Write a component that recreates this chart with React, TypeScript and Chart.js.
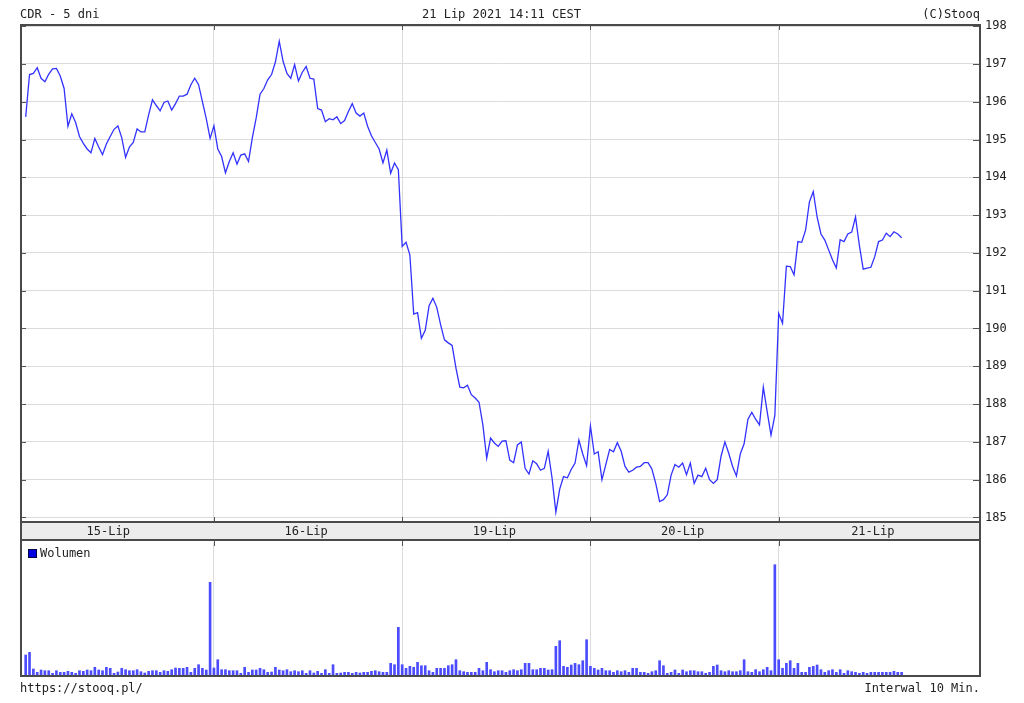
import { useEffect, useRef } from "react";
import { Chart, registerables } from "chart.js";

Chart.register(...registerables);

// ---- data -------------------------------------------------------------
const DAYS = ["15-Lip", "16-Lip", "19-Lip", "20-Lip", "21-Lip"];
const BARS_PER_DAY = 49; // 10-minute bars 09:00 .. 17:00
// bar index at which each day label sits in the date band
const DAY_LABEL_POS = [21.5, 73, 122, 171, 220.5];
const Y_TICKS = [185, 186, 187, 188, 189, 190, 191, 192, 193, 194, 195, 196, 197, 198];

const PRICE_D1 = [
  195.6, 196.72, 196.75, 196.9, 196.62, 196.53, 196.73, 196.87, 196.88, 196.68,
  196.35, 195.35, 195.68, 195.45, 195.08, 194.9, 194.75, 194.65, 195.03, 194.8,
  194.6, 194.88, 195.08, 195.27, 195.36, 195.05, 194.53, 194.8, 194.92, 195.28,
  195.2, 195.2, 195.65, 196.05, 195.9, 195.76, 195.98, 196.02, 195.78, 195.95,
  196.15, 196.15, 196.2, 196.45, 196.62, 196.45, 196.0, 195.55, 195.03,
];
const PRICE_D2 = [
  195.36, 194.75, 194.55, 194.12, 194.42, 194.65, 194.35, 194.59, 194.62, 194.42,
  195.05, 195.57, 196.2, 196.35, 196.58, 196.72, 197.05, 197.6, 197.07, 196.75,
  196.62, 196.98, 196.55, 196.78, 196.93, 196.62, 196.6, 195.82, 195.78, 195.47,
  195.55, 195.52, 195.6, 195.42, 195.5, 195.74, 195.95, 195.7, 195.62, 195.7,
  195.35, 195.1, 194.92, 194.75, 194.38, 194.72, 194.11, 194.38, 194.2,
];
const PRICE_D3 = [
  192.17, 192.28, 191.95, 190.38, 190.42, 189.74, 189.95, 190.6, 190.8, 190.56,
  190.1, 189.7, 189.62, 189.55, 188.95, 188.45, 188.43, 188.5, 188.25, 188.16,
  188.05, 187.45, 186.57, 187.1, 186.97, 186.88, 187.02, 187.03, 186.52, 186.45,
  186.92, 187.0, 186.3, 186.15, 186.5, 186.42, 186.25, 186.3, 186.75, 186.05,
  185.14, 185.75, 186.08, 186.05, 186.27, 186.44, 187.05, 186.68, 186.37,
];
const PRICE_D4 = [
  187.42, 186.68, 186.74, 186.0, 186.4, 186.8, 186.74, 186.98, 186.75, 186.35,
  186.2, 186.25, 186.33, 186.35, 186.45, 186.45, 186.28, 185.9, 185.42, 185.47,
  185.6, 186.12, 186.4, 186.33, 186.44, 186.13, 186.44, 185.9, 186.12, 186.08,
  186.3, 186.0, 185.9, 186.0, 186.62, 187.0, 186.7, 186.35, 186.1, 186.68,
  186.95, 187.6, 187.78, 187.6, 187.45, 188.45, 187.8, 187.18, 187.7,
];
const PRICE_D5 = [
  190.4, 190.14, 191.65, 191.64, 191.42, 192.3, 192.28, 192.6, 193.35, 193.62,
  192.95, 192.5, 192.34, 192.08, 191.82, 191.6, 192.35, 192.3, 192.5, 192.55,
  192.95, 192.2, 191.57, 191.6, 191.62, 191.9, 192.3, 192.34, 192.52, 192.43,
  192.56, 192.5, 192.4,
];

// volume (thousand shares)
const VOL_D1 = [
  20, 22.7, 6, 2.7, 5, 4.3, 4.3, 1.7, 4.3, 2.7, 2.7, 3.7, 2.7, 1.7, 4.3, 3.7, 5, 4.3,
  7.7, 5, 4.3, 7.7, 6.7, 1.7, 3, 6.7, 5.3, 4.3, 4.3, 5.3, 3.3, 2, 3.7, 4.3, 4.3, 2.7,
  4.3, 3.7, 5.3, 7, 6.7, 6.7, 7.7, 2.7, 6.7, 10.3, 6.7, 5, 92.7,
];
const VOL_D2 = [
  7, 15.3, 5.3, 5.3, 4.3, 4.3, 4.3, 1.7, 7.7, 2.7, 5, 5, 6.7, 5.3, 2.7, 3, 7.7, 5,
  4.3, 5.3, 3.3, 4.3, 3.3, 4.3, 1.7, 4.3, 2, 3.7, 1.7, 5.3, 1.7, 10.3, 1.7, 2, 2.7,
  2.7, 1.7, 2.7, 2, 2.7, 2.7, 3.7, 4.3, 3.3, 2.7, 2.7, 11.7, 10.3, 47.7,
];
const VOL_D3 = [
  10.3, 6.7, 8.7, 7.7, 12.7, 9.3, 9.3, 4.3, 2.7, 6.7, 6.7, 6.7, 9.3, 10.3, 15.3, 4.3,
  3.3, 2.7, 2.7, 2.7, 6.7, 4.3, 12.7, 5.3, 3.3, 4.3, 4.3, 2.7, 4.3, 5.3, 4.3, 5.3,
  11.7, 11.7, 5.3, 5.3, 6.7, 6.7, 5, 5.3, 28.7, 34.3, 8.7, 7.7, 10, 11.7, 10.3, 14.3, 35.3,
];
const VOL_D4 = [
  8.7, 6.7, 5, 6.7, 4.3, 4.3, 2.7, 4.3, 3.3, 4.3, 2.7, 6.7, 6.7, 2.7, 2.7, 1.7, 3.3,
  4.3, 14.3, 9.3, 1.7, 2.7, 5, 1.7, 5, 3.3, 4.3, 4.3, 3.3, 3.3, 1.7, 2.7, 8.7, 10, 4.3,
  3.3, 4.3, 3.3, 3.3, 4.3, 15.3, 3.3, 2.7, 5.3, 3.3, 5.3, 7.7, 4.3, 110.3,
];
const VOL_D5 = [
  15.3, 6.7, 11.7, 14.3, 6.7, 11.7, 2.7, 2.7, 7.7, 8.7, 10, 5.3, 2.7, 4.3, 5.3, 2.7,
  5.3, 1.7, 4.3, 3.3, 2.7, 1.7, 2.7, 1.7, 2.7, 2.7, 2.7, 2.7, 2.7, 2.7, 3.7, 2.7, 2.7,
];

const PRICE_DAYS = [PRICE_D1, PRICE_D2, PRICE_D3, PRICE_D4, PRICE_D5];
const VOL_DAYS = [VOL_D1, VOL_D2, VOL_D3, VOL_D4, VOL_D5];

// ---- derived ----------------------------------------------------------
const toPoints = (days: number[][]) =>
  days.flatMap((arr, d) => arr.map((v, i) => ({ x: d * BARS_PER_DAY + i, y: v })));
const PRICE_POINTS = toPoints(PRICE_DAYS);
const VOL_POINTS = toPoints(VOL_DAYS);
const BOUNDARIES = DAYS.slice(1).map((_, i) => (i + 1) * BARS_PER_DAY);

const X_MIN = -1.22;
const X_MAX = 248.4;
const Y_MIN = 184.88;
const Y_MAX = 198.03;
const VOL_MAX = 133;

const FONT = '"DejaVu Sans Mono", "Liberation Mono", monospace';
const TEXT = "#222";
const GRID = "#dcdcdc";
const FRAME = "#4a4a4a";

const pricePlugin = {
  id: "priceFrame",
  beforeDraw(chart: any) {
    const { ctx, chartArea: a } = chart;
    ctx.save();
    ctx.fillStyle = "#ffffff";
    ctx.fillRect(0, 0, chart.width, chart.height);
    ctx.fillStyle = "#ececec";
    ctx.fillRect(a.left, a.bottom, a.right - a.left, chart.height - a.bottom);
    ctx.restore();
  },
  afterDraw(chart: any) {
    const { ctx, chartArea: a, scales } = chart;
    const ys = scales.y;
    const xs = scales.x;
    ctx.save();
    ctx.strokeStyle = "#555";
    ctx.lineWidth = 1;
    ctx.beginPath();
    Y_TICKS.forEach((v) => {
      const py = Math.round(ys.getPixelForValue(v)) + 0.5;
      ctx.moveTo(a.left, py);
      ctx.lineTo(a.left + 5, py);
      ctx.moveTo(a.right - 7, py);
      ctx.lineTo(a.right, py);
    });
    BOUNDARIES.forEach((b) => {
      const px = Math.round(xs.getPixelForValue(b)) + 0.5;
      ctx.moveTo(px, a.top);
      ctx.lineTo(px, a.top + 5);
      ctx.moveTo(px, a.bottom);
      ctx.lineTo(px, a.bottom - 5);
    });
    ctx.stroke();
    ctx.lineWidth = 2;
    ctx.strokeStyle = FRAME;
    ctx.strokeRect(a.left, a.top, a.right - a.left, chart.height - 1 - a.top);
    ctx.beginPath();
    ctx.moveTo(a.left, a.bottom);
    ctx.lineTo(a.right, a.bottom);
    ctx.stroke();
    ctx.restore();
  },
};

const volPlugin = {
  id: "volFrame",
  beforeDraw(chart: any) {
    const { ctx } = chart;
    ctx.save();
    ctx.fillStyle = "#ffffff";
    ctx.fillRect(0, 0, chart.width, chart.height);
    ctx.restore();
  },
  afterDraw(chart: any) {
    const { ctx, chartArea: a, scales } = chart;
    const xs = scales.x;
    ctx.save();
    ctx.strokeStyle = "#555";
    ctx.lineWidth = 1;
    ctx.beginPath();
    BOUNDARIES.forEach((b) => {
      const px = Math.round(xs.getPixelForValue(b)) + 0.5;
      ctx.moveTo(px, 0);
      ctx.lineTo(px, 5);
    });
    ctx.stroke();
    ctx.lineWidth = 2;
    ctx.strokeStyle = FRAME;
    ctx.beginPath();
    ctx.moveTo(a.left, 0);
    ctx.lineTo(a.left, a.bottom + 1);
    ctx.lineTo(a.right, a.bottom + 1);
    ctx.lineTo(a.right, 0);
    ctx.stroke();
    ctx.restore();
  },
};

function PriceChart() {
  const ref = useRef<HTMLCanvasElement | null>(null);
  useEffect(() => {
    if (!ref.current) return;
    const chart = new Chart(ref.current, {
      type: "line",
      data: {
        datasets: [
          {
            data: PRICE_POINTS,
            borderColor: "#3232ff",
            borderWidth: 1.3,
            pointRadius: 0,
            fill: false,
            tension: 0,
          },
        ],
      },
      options: {
        animation: false,
        responsive: false,
        events: [],
        layout: { padding: { left: 21, top: 25, right: 0, bottom: 0 } },
        plugins: { legend: { display: false }, tooltip: { enabled: false } },
        scales: {
          x: {
            type: "linear",
            position: "bottom",
            min: X_MIN,
            max: X_MAX,
            afterBuildTicks: (s: any) => {
              s.ticks = BOUNDARIES.map((v) => ({ value: v }));
            },
            afterFit: (s: any) => {
              s.height = 0;
            },
            grid: { color: GRID, lineWidth: 1, drawTicks: false },
            border: { display: false },
            ticks: { display: false },
          },
          xLabels: {
            type: "linear",
            position: "bottom",
            min: X_MIN,
            max: X_MAX,
            afterBuildTicks: (s: any) => {
              s.ticks = DAY_LABEL_POS.map((v) => ({ value: v }));
            },
            afterFit: (s: any) => {
              s.height = 19;
            },
            grid: { display: false, drawTicks: false },
            border: { display: false },
            ticks: {
              autoSkip: false,
              maxRotation: 0,
              padding: 3,
              color: TEXT,
              font: { family: FONT, size: 12 },
              callback: (_v: any, i: number) => DAYS[i],
            },
          },
          y: {
            type: "linear",
            position: "right",
            min: Y_MIN,
            max: Y_MAX,
            afterBuildTicks: (s: any) => {
              s.ticks = Y_TICKS.map((v) => ({ value: v }));
            },
            afterFit: (s: any) => {
              s.width = 44;
            },
            grid: { color: GRID, lineWidth: 1, drawTicks: false },
            border: { display: false },
            ticks: {
              padding: 5,
              color: TEXT,
              font: { family: FONT, size: 12 },
              callback: (v: any) => String(v),
            },
          },
        },
      },
      plugins: [pricePlugin],
    } as any);
    return () => chart.destroy();
  }, []);
  return (
    <canvas
      ref={ref}
      width={1024}
      height={541}
      style={{ position: "absolute", left: 0, top: 0, width: 1024, height: 541 }}
    />
  );
}

function VolumeChart() {
  const ref = useRef<HTMLCanvasElement | null>(null);
  useEffect(() => {
    if (!ref.current) return;
    const chart = new Chart(ref.current, {
      type: "bar",
      data: {
        datasets: [
          {
            label: "Wolumen",
            data: VOL_POINTS,
            backgroundColor: "#4c4cff",
            borderWidth: 0,
            barThickness: 2,
          },
        ],
      },
      options: {
        animation: false,
        responsive: false,
        events: [],
        layout: { padding: { left: 21, top: 1, right: 44, bottom: 28 } },
        plugins: { legend: { display: false }, tooltip: { enabled: false } },
        scales: {
          x: {
            type: "linear",
            position: "bottom",
            offset: false,
            min: X_MIN,
            max: X_MAX,
            afterBuildTicks: (s: any) => {
              s.ticks = BOUNDARIES.map((v) => ({ value: v }));
            },
            afterFit: (s: any) => {
              s.height = 0;
            },
            grid: { color: GRID, lineWidth: 1, drawTicks: false, offset: false },
            border: { display: false },
            ticks: { display: false },
          },
          y: {
            display: false,
            min: 0,
            max: VOL_MAX,
          },
        },
      },
      plugins: [volPlugin],
    } as any);
    return () => chart.destroy();
  }, []);
  return (
    <canvas
      ref={ref}
      width={1024}
      height={162}
      style={{ position: "absolute", left: 0, top: 541, width: 1024, height: 162 }}
    />
  );
}

const txt = (extra: any) => ({
  position: "absolute" as const,
  fontFamily: FONT,
  fontSize: 12,
  lineHeight: "14px",
  color: TEXT,
  whiteSpace: "pre" as const,
  ...extra,
});

export default function App() {
  return (
    <div
      style={{
        position: "fixed",
        left: 0,
        top: 0,
        width: 1024,
        height: 703,
        background: "#fff",
        overflow: "hidden",
      }}
    >
      <PriceChart />
      <VolumeChart />
      <div style={txt({ left: 20, top: 7 })}>CDR - 5 dni</div>
      <div style={txt({ left: 422, top: 7 })}>21 Lip 2021 14:11 CEST</div>
      <div style={txt({ right: 44, top: 7, textAlign: "right" })}>(C)Stooq</div>
      <div
        style={{
          position: "absolute",
          left: 28,
          top: 549,
          width: 7,
          height: 7,
          background: "#0000e0",
          border: "1px solid #000044",
        }}
      />
      <div style={txt({ left: 40, top: 546 })}>Wolumen</div>
      <div style={txt({ left: 20, top: 681 })}>https://stooq.pl/</div>
      <div style={txt({ right: 44, top: 681, textAlign: "right" })}>Interwal 10 Min.</div>
    </div>
  );
}
